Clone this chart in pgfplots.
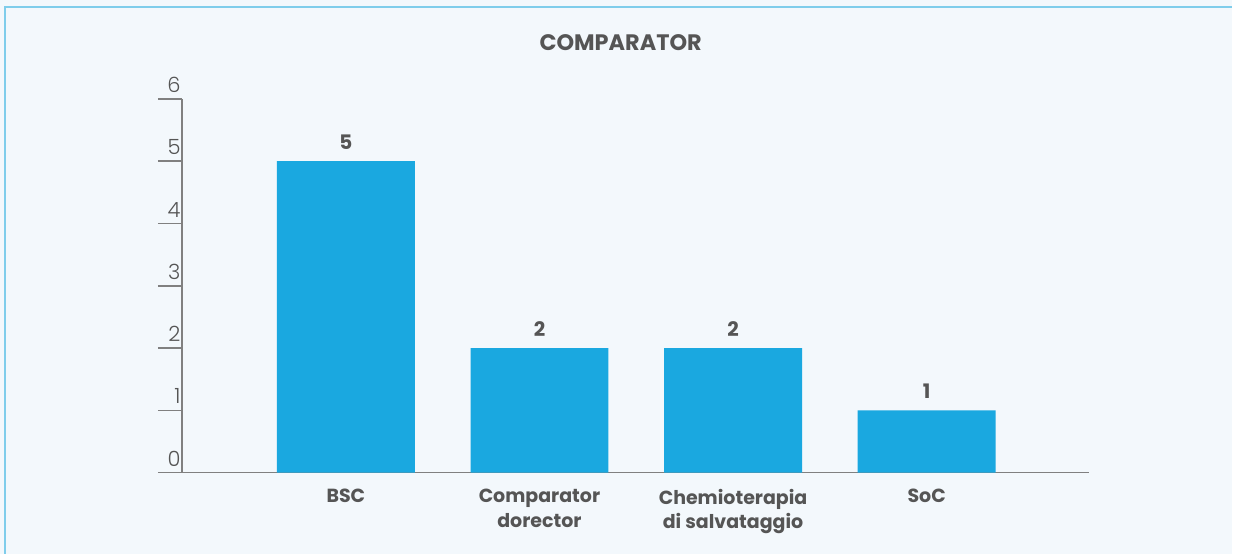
\documentclass[border=0pt]{standalone}
\usepackage{fontspec}
\setmainfont{Poppins}
\newfontfamily\lightfont{Poppins Light}
\usepackage{pgfplots}
\pgfplotsset{compat=1.18}
\definecolor{bg}{HTML}{F3F8FC}
\definecolor{framec}{HTML}{7FCDEB}
\definecolor{barblue}{HTML}{1AA8E0}
\definecolor{txt}{HTML}{555555}
\definecolor{axisgray}{HTML}{808080}

\begin{document}
\begin{tikzpicture}
% panel background and frame
\fill[bg] (0,0) rectangle (616.5pt,277pt);
\draw[framec, line width=0.8pt] (2.5pt,0) -- (2.5pt,273.5pt) -- (616.5pt,273.5pt);
\node[font=\bfseries\fontsize{11.2}{13}\selectfont, text=txt] at (310.5pt,255.5pt) {COMPARATOR};
\begin{axis}[
  at={(91pt,40.5pt)}, anchor=south west,
  scale only axis, width=454pt, height=187pt,
  xmin=-0.847, xmax=3.84, ymin=0, ymax=6,
  axis x line=bottom, axis y line=left,
  axis line style={draw=axisgray, line width=0.75pt, -},
  xtick={0,1,2,3},
  xticklabels={BSC, {Comparator\\dorector}, {Chemioterapia\\di salvataggio}, SoC},
  xtick style={draw=none},
  xticklabel style={align=center, font=\bfseries\fontsize{9.5}{12.3}\selectfont, text=txt, inner sep=0pt, yshift=4pt},
  ytick={0,...,6},
  tick align=outside,
  major tick length=12pt,
  ytick style={draw=axisgray, line width=0.75pt},
  yticklabel style={font=\lightfont\fontsize{10.5}{12}\selectfont, text=txt, anchor=south east, inner sep=0pt, xshift=11.5pt, yshift=3pt},
  /pgf/number format/assume math mode=true,
  ybar, bar width=69pt,
  nodes near coords,
  every node near coord/.append style={font=\bfseries\fontsize{10}{11}\selectfont, text=txt, anchor=south, inner sep=0pt, yshift=5.5pt},
  clip=false,
]
\addplot[fill=barblue, draw=none] coordinates {(0,5) (1,2) (2,2) (3,1)};
\end{axis}
\end{tikzpicture}
\end{document}
